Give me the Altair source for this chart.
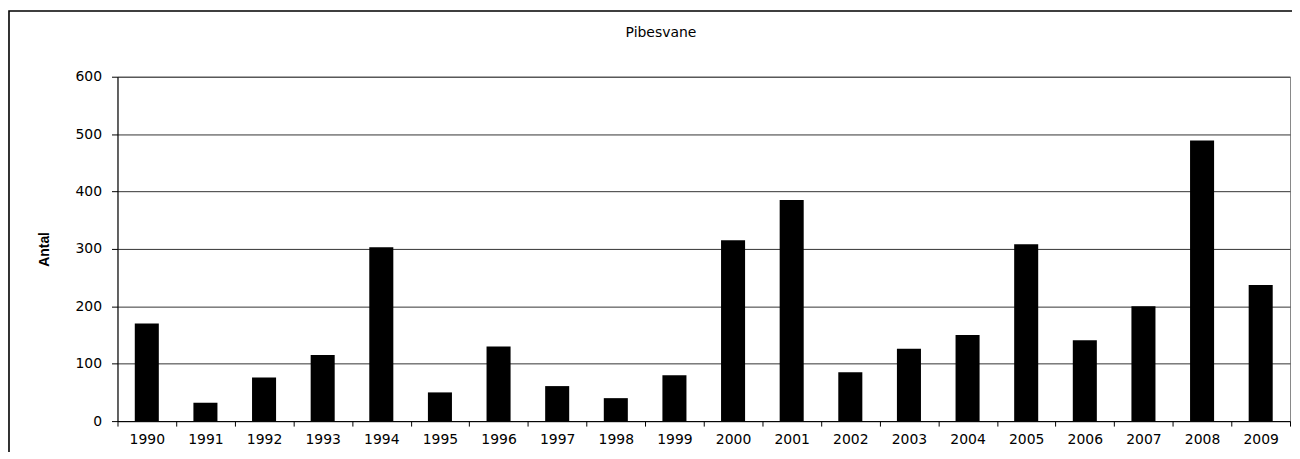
import altair as alt
import pandas as pd

years = [1990, 1991, 1992, 1993, 1994, 1995, 1996, 1997, 1998, 1999,
         2000, 2001, 2002, 2003, 2004, 2005, 2006, 2007, 2008, 2009]
antal = [170, 32, 76, 115, 303, 50, 130, 61, 40, 80,
         315, 385, 85, 126, 150, 308, 141, 200, 489, 237]
y_ticks = [0, 100, 200, 300, 400, 500, 600]
title_text = "Pibesvane"
y_title = "Antal"

df = pd.DataFrame({"year": [str(y) for y in years], "antal": antal})

bars = alt.Chart(df).mark_bar(
    color="black", width=alt.RelativeBandSize(0.41)
).encode(
    x=alt.X("year:O", sort=None,
            scale=alt.Scale(paddingInner=0, paddingOuter=0),
            axis=alt.Axis(title=None, labelAngle=0, tickBand="extent",
                          domainColor="black", tickColor="black", tickSize=5,
                          labelPadding=6, labelFont="DejaVu Sans", labelFontSize=14,
                          labelColor="black", grid=False)),
    y=alt.Y("antal:Q",
            scale=alt.Scale(domain=[0, 600], nice=False),
            axis=alt.Axis(values=y_ticks, title=y_title, grid=True, gridColor="#333",
                          gridWidth=1, domainColor="black", tickColor="black",
                          tickSize=6, labelPadding=10, labelFont="DejaVu Sans",
                          labelFontSize=14, labelColor="black",
                          titleFont="Liberation Sans", titleFontSize=14,
                          titleFontWeight="bold", titleColor="black",
                          titleAngle=270, titleX=-73, titleY=173,
                          titleAlign="center", titleBaseline="middle")),
)

frame = alt.Chart(alt.Data(values=[{"k": 1}])).mark_rect(
    filled=False, stroke="black", strokeWidth=1.6
).encode(
    x=alt.value(-109), x2=alt.value(1400), y=alt.value(-66), y2=alt.value(700)
)

chart = alt.layer(frame, bars).properties(
    width=1178, height=346,
    title=alt.TitleParams(title_text, font="DejaVu Sans", fontSize=14,
                          fontWeight="normal", color="black", anchor="middle",
                          dx=-43, offset=0, baseline="alphabetic", dy=41),
    autosize=alt.AutoSizeParams(type="none"),
    padding={"left": 110, "top": 68, "right": 2, "bottom": 30},
).configure_view(stroke="#888", strokeWidth=1)

chart.save("out.html", embed_options={"renderer": "svg", "actions": False})
